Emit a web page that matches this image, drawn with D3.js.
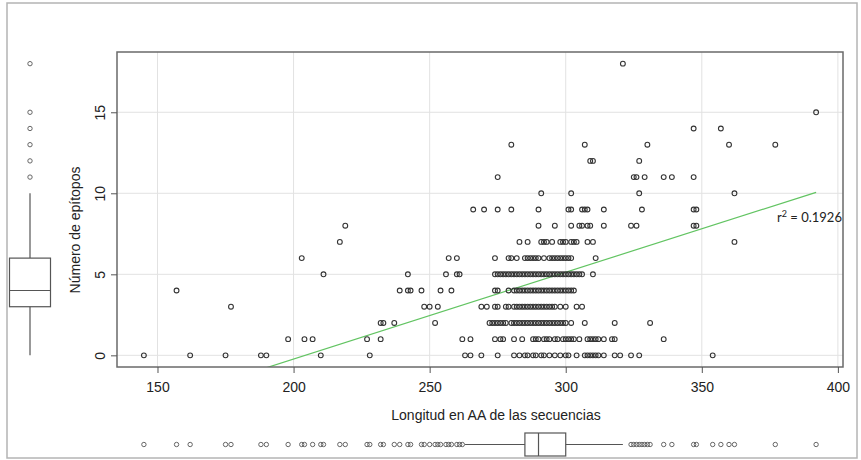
<!DOCTYPE html>
<html>
<head>
<meta charset="utf-8">
<script src="https://cdn.jsdelivr.net/npm/d3@7"></script>
<style>
  html, body { margin: 0; padding: 0; background: #fff; }
  svg { display: block; }
</style>
</head>
<body>
<svg id="chart" width="861" height="460"></svg>
<script>
// Número de epítopos (y) and, for each count, the sequence lengths (x)
const nEpitopos = [0, 1, 2, 3, 4, 5, 6, 7, 8, 9, 10, 11, 12, 13, 14, 15, 18];
const longitudes = [
  [145, 162, 175, 188, 190, 210, 228, 263, 265, 269, 275, 281, 283, 285, 286, 288, 289, 291, 292, 294, 296, 298, 300, 301, 304, 307, 308, 309, 310, 311, 312, 314, 318, 320, 324, 327, 354],
  [198, 204, 207, 227, 232, 262, 265, 274, 276, 277, 281, 284, 288, 289, 290, 292, 293, 294, 296, 297, 299, 300, 301, 302, 303, 305, 308, 309, 310, 311, 312, 314, 317, 318, 336],
  [232, 233, 237, 252, 272, 273, 274, 275, 276, 277, 278, 280, 281, 282, 283, 284, 285, 286, 287, 288, 289, 290, 291, 292, 293, 294, 295, 296, 297, 298, 299, 300, 302, 307, 318, 331],
  [177, 248, 250, 253, 269, 271, 274, 275, 278, 279, 281, 282, 283, 284, 285, 286, 287, 288, 289, 290, 291, 292, 293, 294, 295, 296, 298, 300, 304, 306],
  [157, 239, 242, 243, 247, 254, 258, 274, 275, 279, 281, 282, 283, 284, 285, 286, 287, 288, 289, 290, 291, 292, 293, 294, 295, 296, 297, 298, 299, 300, 301, 302, 303],
  [211, 242, 256, 260, 261, 274, 275, 276, 277, 278, 279, 280, 281, 282, 283, 284, 285, 286, 287, 288, 289, 290, 291, 292, 293, 294, 295, 296, 297, 298, 299, 300, 301, 302, 303, 304, 305, 306, 310],
  [203, 257, 260, 274, 279, 280, 282, 285, 286, 287, 288, 289, 290, 292, 294, 295, 296, 297, 298, 299, 300, 301, 302, 311],
  [217, 283, 286, 291, 292, 293, 295, 298, 299, 300, 302, 303, 304, 308, 310, 362],
  [219, 290, 296, 302, 305, 306, 308, 309, 314, 324, 326, 347, 348],
  [266, 270, 275, 280, 290, 301, 302, 306, 307, 308, 314, 328, 347, 348],
  [291, 302, 327, 362],
  [275, 325, 326, 329, 336, 339, 347],
  [309, 310, 327],
  [280, 307, 330, 360, 377],
  [347, 357],
  [392],
  [321]
];

// boxplot stats: [whisker low, Q1, median, Q3, whisker high]
const boxY = [0, 3, 4, 6, 10];
const boxX = [263, 285, 290, 300, 321];

// linear fit
const fitIntercept = -10.95;
const fitSlope = 0.0536;
const r2Label = '0.1926';

const xTicks = [150, 200, 250, 300, 350, 400];
const yTicks = [0, 5, 10, 15];

const xTitle = 'Longitud en AA de las secuencias';
const yTitle = 'Número de epítopos';

const points = [];
nEpitopos.forEach((n, i) => longitudes[i].forEach(l => points.push({ x: l, y: n })));

const FONT = '"Liberation Sans", Arial, sans-serif';
const plot = { left: 117, right: 843, top: 52, bottom: 367 };

// R-style 4% padding around data range
const xExt = d3.extent(points, d => d.x);
const yExt = d3.extent(points, d => d.y);
const xPad = (xExt[1] - xExt[0]) * 0.04, yPad = (yExt[1] - yExt[0]) * 0.04;

const x = d3.scaleLinear().domain([xExt[0] - xPad, xExt[1] + xPad]).range([plot.left, plot.right]);
const y = d3.scaleLinear().domain([yExt[0] - yPad, yExt[1] + yPad]).range([plot.bottom, plot.top]);

const svg = d3.select('#chart');

svg.append('rect').attr('width', 861).attr('height', 460).attr('fill', '#fff');
// outer frame
svg.append('rect')
  .attr('x', 7).attr('y', 3).attr('width', 850).attr('height', 455)
  .attr('fill', 'none').attr('stroke', '#b4b4b4').attr('stroke-width', 1.5);

svg.append('defs').append('clipPath').attr('id', 'plotClip')
  .append('rect')
  .attr('x', plot.left).attr('y', plot.top)
  .attr('width', plot.right - plot.left).attr('height', plot.bottom - plot.top);

// grid
const grid = svg.append('g').attr('stroke', '#e2e2e2').attr('stroke-width', 1);
grid.selectAll('line.gx').data(xTicks).join('line')
  .attr('x1', d => x(d)).attr('x2', d => x(d))
  .attr('y1', plot.top).attr('y2', plot.bottom);
grid.selectAll('line.gy').data(yTicks).join('line')
  .attr('x1', plot.left).attr('x2', plot.right)
  .attr('y1', d => y(d)).attr('y2', d => y(d));

// regression line, clipped to the plot box
svg.append('line')
  .attr('clip-path', 'url(#plotClip)')
  .attr('x1', x(xExt[0])).attr('y1', y(fitIntercept + fitSlope * xExt[0]))
  .attr('x2', x(xExt[1])).attr('y2', y(fitIntercept + fitSlope * xExt[1]))
  .attr('stroke', '#62c462').attr('stroke-width', 1.2);

// scatter
svg.append('g').selectAll('circle').data(points).join('circle')
  .attr('cx', d => x(d.x)).attr('cy', d => y(d.y)).attr('r', 2.4)
  .attr('fill', 'none').attr('stroke', '#333').attr('stroke-width', 1.1);

// plot border
svg.append('rect')
  .attr('x', plot.left).attr('y', plot.top)
  .attr('width', plot.right - plot.left).attr('height', plot.bottom - plot.top)
  .attr('fill', 'none').attr('stroke', '#6a6a6a').attr('stroke-width', 1.5);

// axes
const xAxis = svg.append('g')
  .attr('transform', `translate(0,${plot.bottom})`)
  .call(d3.axisBottom(x).tickValues(xTicks).tickSize(6).tickSizeOuter(0).tickPadding(9));
xAxis.select('.domain').remove();
xAxis.selectAll('line').attr('stroke', '#555');
xAxis.selectAll('text').attr('font-family', FONT).attr('font-size', 14).attr('fill', '#222');

const yAxis = svg.append('g')
  .attr('transform', `translate(${plot.left},0)`)
  .call(d3.axisLeft(y).tickValues(yTicks).tickSize(6).tickSizeOuter(0));
yAxis.select('.domain').remove();
yAxis.selectAll('line').attr('stroke', '#555');
yAxis.selectAll('text')
  .attr('x', null).attr('dy', null)
  .attr('transform', 'translate(-12,0) rotate(-90)')
  .attr('text-anchor', 'middle')
  .attr('font-family', FONT).attr('font-size', 14).attr('fill', '#222');

svg.append('text')
  .attr('x', 496).attr('y', 420)
  .attr('text-anchor', 'middle')
  .attr('font-family', FONT).attr('font-size', 14).attr('fill', '#222')
  .text(xTitle);

svg.append('text')
  .attr('transform', 'translate(80,230) rotate(-90)')
  .attr('text-anchor', 'middle')
  .attr('font-family', FONT).attr('font-size', 14).attr('fill', '#222')
  .text(yTitle);

// r² label
const r2 = svg.append('text')
  .attr('x', 777).attr('y', 222)
  .attr('font-family', 'Lato, "Open Sans", sans-serif').attr('font-size', 13).attr('fill', '#222');
r2.append('tspan').text('r');
r2.append('tspan').attr('font-size', 9).attr('dy', -5).text('2');
r2.append('tspan').attr('dy', 5).text(' = ' + r2Label);

// marginal boxplot for y (left)
const bY = svg.append('g').attr('stroke', '#555').attr('stroke-width', 1.2).attr('fill', 'none');
const byCx = 30, byW = 41;
bY.append('line').attr('x1', byCx).attr('x2', byCx).attr('y1', y(boxY[0])).attr('y2', y(boxY[1]));
bY.append('line').attr('x1', byCx).attr('x2', byCx).attr('y1', y(boxY[3])).attr('y2', y(boxY[4]));
bY.append('rect')
  .attr('x', byCx - byW / 2).attr('width', byW)
  .attr('y', y(boxY[3])).attr('height', y(boxY[1]) - y(boxY[3]));
bY.append('line').attr('x1', byCx - byW / 2).attr('x2', byCx + byW / 2)
  .attr('y1', y(boxY[2])).attr('y2', y(boxY[2]));
const yOut = Array.from(new Set(points.map(d => d.y).filter(v => v < boxY[0] || v > boxY[4])));
svg.append('g').selectAll('circle').data(yOut).join('circle')
  .attr('cx', byCx).attr('cy', d => y(d)).attr('r', 2.2)
  .attr('fill', 'none').attr('stroke', '#666').attr('stroke-width', 1);

// marginal boxplot for x (bottom)
const bX = svg.append('g').attr('stroke', '#555').attr('stroke-width', 1.2).attr('fill', 'none');
const bxCy = 444.5, bxH = 23;
bX.append('line').attr('y1', bxCy).attr('y2', bxCy).attr('x1', x(boxX[0])).attr('x2', x(boxX[1]));
bX.append('line').attr('y1', bxCy).attr('y2', bxCy).attr('x1', x(boxX[3])).attr('x2', x(boxX[4]));
bX.append('rect')
  .attr('y', bxCy - bxH / 2).attr('height', bxH)
  .attr('x', x(boxX[1])).attr('width', x(boxX[3]) - x(boxX[1]));
bX.append('line').attr('y1', bxCy - bxH / 2).attr('y2', bxCy + bxH / 2)
  .attr('x1', x(boxX[2])).attr('x2', x(boxX[2]));
const xOut = Array.from(new Set(points.map(d => d.x).filter(v => v < boxX[0] || v > boxX[4])));
svg.append('g').selectAll('circle').data(xOut).join('circle')
  .attr('cx', d => x(d)).attr('cy', bxCy).attr('r', 2.2)
  .attr('fill', 'none').attr('stroke', '#666').attr('stroke-width', 1);
</script>
</body>
</html>
